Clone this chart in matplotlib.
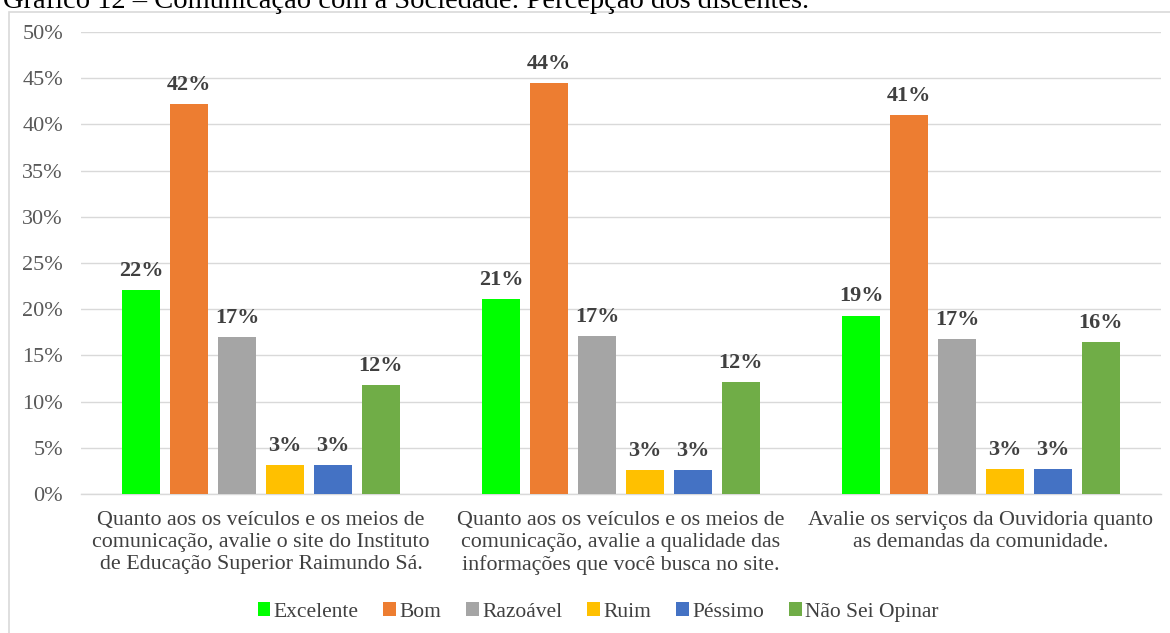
import matplotlib
matplotlib.use("Agg")
import matplotlib.pyplot as plt
from matplotlib.patches import Rectangle
import numpy as np

plt.rcParams['font.family'] = ['Liberation Serif', 'DejaVu Serif']

categorias = [
    "Quanto aos os veículos e os meios de\ncomunicação, avalie o site do Instituto\nde Educação Superior Raimundo Sá.",
    "Quanto aos os veículos e os meios de\ncomunicação, avalie a qualidade das\ninformações que você busca no site.",
    "Avalie os serviços da Ouvidoria quanto\nas demandas da comunidade.",
]
series = ["Excelente", "Bom", "Razoável", "Ruim", "Péssimo", "Não Sei Opinar"]
excelente = [22.1, 21.1, 19.3]
bom = [42.2, 44.5, 41.0]
razoavel = [17.0, 17.1, 16.8]
ruim = [3.1, 2.6, 2.7]
pessimo = [3.1, 2.6, 2.7]
nao_sei = [11.8, 12.1, 16.4]
valores = [excelente, bom, razoavel, ruim, pessimo, nao_sei]
cores = ['#00ff00', '#ed7d31', '#a5a5a5', '#ffc000', '#4472c4', '#70ad47']

fig = plt.figure(figsize=(11.7, 6.33), dpi=100)

# moldura cinza do gráfico (cortada à direita e embaixo)
fig.patches.append(Rectangle((9 / 1170, -0.1), 1.2, 1 - 12 / 633 + 0.1,
                             transform=fig.transFigure, fill=False,
                             edgecolor='#d9d9d9', linewidth=1.2))

# título cortado no topo
fig.text(3 / 1170, 1 - 8 / 633,
         "Gráfico 12 – Comunicação com a Sociedade: Percepção dos discentes.",
         fontsize=20.5, va='baseline', ha='left', color='black')

ax = fig.add_axes([81 / 1170, 139 / 633, 1080 / 1170, 462 / 633])

x = np.arange(len(categorias))
passo = 0.1333
largura = 0.1056
for i, (nome, vals, cor) in enumerate(zip(series, valores, cores)):
    pos = x + (i - 2.5) * passo
    barras = ax.bar(pos, vals, width=largura, color=cor, label=nome, zorder=3)
    for b, v in zip(barras, vals):
        ax.text(b.get_x() + b.get_width() / 2, v + 1.0, f"{round(v):.0f}%",
                ha='center', va='bottom', fontsize=16, fontweight='bold',
                color='#404040')

ax.set_xlim(-0.5, 2.5)
ax.set_ylim(0, 50)
ax.set_yticks(np.arange(0, 51, 5))
ax.set_yticklabels([f"{v}%" for v in range(0, 51, 5)])
ax.set_xticks(x)
ax.set_xticklabels(categorias, fontsize=15.8, color='#404040', linespacing=1.22)
ax.tick_params(axis='y', length=0, labelsize=16, labelcolor='#595959', pad=13)
ax.tick_params(axis='x', length=0, pad=12)
ax.grid(axis='y', color='#d9d9d9', linewidth=1.0, zorder=0)
for s in ['top', 'right', 'left']:
    ax.spines[s].set_visible(False)
ax.spines['bottom'].set_color('#d9d9d9')
ax.spines['bottom'].set_linewidth(1.0)

fig.legend(loc='center', bbox_to_anchor=(598 / 1170, 21 / 633), ncol=6,
           frameon=False, fontsize=15.5, handlelength=0.6, handleheight=0.6,
           handletextpad=0.15, columnspacing=1.15, labelcolor='#404040')

fig.savefig("out.png", dpi=100)
